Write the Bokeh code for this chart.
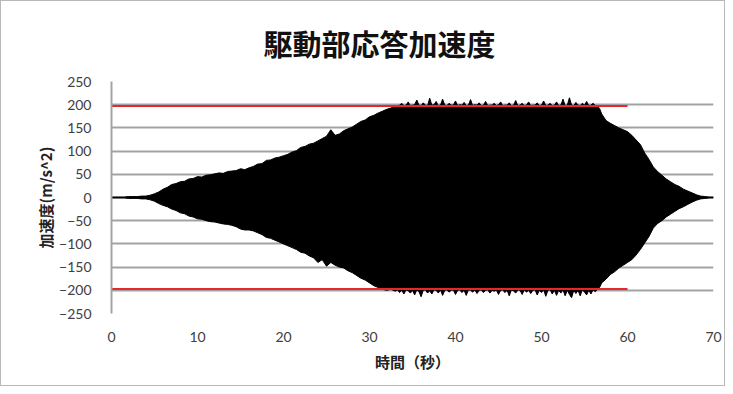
from bokeh.plotting import figure
from bokeh.models import Range1d, FixedTicker, Title
from bokeh.embed import file_html
from bokeh.resources import INLINE

title_text = "駆動部応答加速度"

# envelope of the response acceleration (m/s^2)
time_rise = [0, 0.5, 1, 1.5, 2, 2.5, 3, 3.5, 4, 4.5, 5, 5.5, 6, 6.5, 7, 7.5, 8, 8.5, 9, 9.5,
             10, 10.5, 11, 11.5, 12, 12.5, 13, 13.5, 14, 14.5, 15, 15.5, 16, 16.5, 17, 17.5,
             18, 18.5, 19, 19.5, 20, 20.5, 21, 21.5, 22, 22.5, 23, 23.5, 24, 24.5, 25, 25.5,
             26, 26.5, 27, 27.5, 28, 28.5, 29, 29.5, 30, 30.5, 31, 31.5, 32, 32.5]
upper_rise = [1, 1, 1, 1, 2, 2, 2, 3, 3, 5, 8, 12, 18, 22, 28, 30, 34, 35, 40, 41,
              45, 44, 48, 49, 51, 53, 52, 56, 57, 58, 62, 60, 64, 67, 72, 73, 80, 81, 85, 87,
              90, 93, 98, 101, 108, 110, 115, 117, 122, 127, 132, 146, 134, 137, 144, 148, 152, 158, 164, 167,
              174, 177, 182, 186, 190, 193]
lower_rise = [-1, -1, -1, -1, -2, -2, -2, -3, -3, -5, -8, -13, -17, -20, -25, -28, -33, -35, -40, -42,
              -46, -47, -50, -52, -53, -55, -57, -58, -60, -63, -68, -70, -70, -72, -76, -80, -86, -88, -92, -96,
              -100, -104, -108, -112, -118, -120, -126, -130, -140, -134, -148, -140, -146, -150, -152, -158,
              -162, -168, -174, -178, -184, -190, -194, -198, -200, -198]

time_flat = [33, 33.25, 33.5, 33.75, 34, 34.25, 34.5, 34.75, 35, 35.25, 35.5, 35.75,
             36, 36.25, 36.5, 36.75, 37, 37.25, 37.5, 37.75, 38, 38.25, 38.5, 38.75,
             39, 39.25, 39.5, 39.75, 40, 40.25, 40.5, 40.75, 41, 41.25, 41.5, 41.75,
             42, 42.25, 42.5, 42.75, 43, 43.25, 43.5, 43.75, 44, 44.25, 44.5, 44.75,
             45, 45.25, 45.5, 45.75, 46, 46.25, 46.5, 46.75, 47, 47.25, 47.5, 47.75,
             48, 48.25, 48.5, 48.75, 49, 49.25, 49.5, 49.75, 50, 50.25, 50.5, 50.75,
             51, 51.25, 51.5, 51.75, 52, 52.25, 52.5, 52.75, 53, 53.25, 53.5, 53.75,
             54, 54.25, 54.5, 54.75, 55, 55.25, 55.5, 55.75, 56, 56.25, 56.5, 56.75]
upper_flat = [196, 198, 199, 203, 198, 199, 206, 198, 199, 200, 210, 199,
              198, 204, 199, 198, 214, 199, 200, 207, 198, 199, 212, 199,
              198, 203, 199, 199, 208, 198, 200, 199, 205, 198, 199, 211,
              198, 200, 199, 204, 198, 199, 207, 198, 199, 199, 203, 198,
              200, 206, 198, 199, 199, 204, 198, 199, 209, 198, 199, 203,
              198, 199, 206, 198, 199, 199, 204, 198, 199, 208, 198, 199,
              203, 198, 199, 206, 198, 199, 212, 198, 199, 215, 199, 198,
              205, 199, 198, 203, 199, 207, 198, 199, 203, 198, 197, 192]
lower_flat = [-202, -199, -205, -200, -208, -199, -201, -206, -200, -210, -199, -203,
              -214, -200, -199, -206, -201, -208, -199, -200, -206, -199, -211, -200,
              -199, -204, -200, -199, -209, -200, -199, -205, -200, -211, -199, -200,
              -204, -199, -207, -200, -199, -205, -200, -199, -206, -200, -202, -199,
              -209, -200, -199, -205, -200, -212, -199, -201, -206, -199, -200, -209,
              -199, -204, -200, -207, -200, -199, -210, -200, -205, -199, -213, -200,
              -199, -208, -200, -211, -200, -206, -199, -212, -200, -209, -216, -200,
              -207, -200, -212, -199, -204, -210, -200, -208, -199, -203, -198, -194]

time_fall = [57, 57.5, 58, 58.5, 59, 59.5, 60, 60.5, 61, 61.5, 62, 62.5, 63, 63.5,
             64, 64.5, 65, 65.5, 66, 66.5, 67, 67.5, 68, 68.5, 69, 69.5, 70]
upper_fall = [180, 166, 160, 155, 150, 146, 142, 134, 124, 114, 96, 82, 66, 56,
              48, 40, 34, 28, 24, 18, 14, 10, 6, 3, 2, 1, 1]
lower_fall = [-184, -176, -166, -160, -152, -146, -140, -134, -124, -112, -98, -84, -66, -56,
              -50, -42, -36, -30, -24, -20, -15, -10, -6, -3, -2, -1, -1]

time_s = time_rise + time_flat + time_fall
upper = upper_rise + upper_flat + upper_fall
lower = lower_rise + lower_flat + lower_fall

limit_x = [0, 60]
limit_values = [197, -197]

x_ticks = [0, 10, 20, 30, 40, 50, 60, 70]
y_ticks = [-250, -200, -150, -100, -50, 0, 50, 100, 150, 200, 250]

p = figure(width=725, height=386, output_backend="svg", toolbar_location=None,
           x_range=Range1d(0, 70), y_range=Range1d(-250, 250),
           min_border_left=110, min_border_right=13, min_border_top=80, min_border_bottom=74)
p.styles = {"border": "1px solid #b8b8b8", "box-sizing": "border-box"}
p.outline_line_color = None
p.background_fill_color = "white"
p.border_fill_color = "white"

p.title = Title(text=title_text, align="left", offset=152, vertical_align="top",
                text_font="Noto Sans CJK JP", text_font_size="29px",
                text_font_style="bold", text_color="#111111")
p.title.standoff = 31

# gridlines
p.xgrid.grid_line_color = None
p.ygrid.ticker = FixedTicker(ticks=y_ticks)
p.ygrid.grid_line_color = "#a0a4a6"
p.ygrid.grid_line_width = 2

p.xaxis.ticker = FixedTicker(ticks=x_ticks)
p.yaxis.ticker = FixedTicker(ticks=y_ticks)
for ax in (p.xaxis[0], p.yaxis[0]):
    ax.major_tick_line_color = None
    ax.minor_tick_line_color = None
    ax.major_label_text_font = "Lato"
    ax.major_label_text_font_size = "14px"
    ax.major_label_text_color = "#404040"
    ax.axis_label_text_font = "Noto Sans CJK JP"
    ax.axis_label_text_font_size = "15px"
    ax.axis_label_text_font_style = "bold"
    ax.axis_label_text_color = "#222222"
p.xaxis.axis_line_color = None
p.yaxis.axis_line_color = "#a0a4a6"
p.yaxis.axis_line_width = 2
p.xaxis.major_label_standoff = 12
p.yaxis.major_label_standoff = 14
p.xaxis.axis_label = "時間（秒）"
p.yaxis.axis_label = "加速度(m/s^2)"
p.xaxis.axis_label_standoff = 6
p.yaxis.axis_label_standoff = 0

p.varea(x=time_s, y1=lower, y2=upper, fill_color="black")
p.line(x=time_s, y=upper, line_color="black", line_width=1)
p.line(x=time_s, y=lower, line_color="black", line_width=1)

for v in limit_values:
    p.line(x=limit_x, y=[v, v], line_color="#e8262b", line_width=2)

open("out.html", "w").write(file_html(p, INLINE))
